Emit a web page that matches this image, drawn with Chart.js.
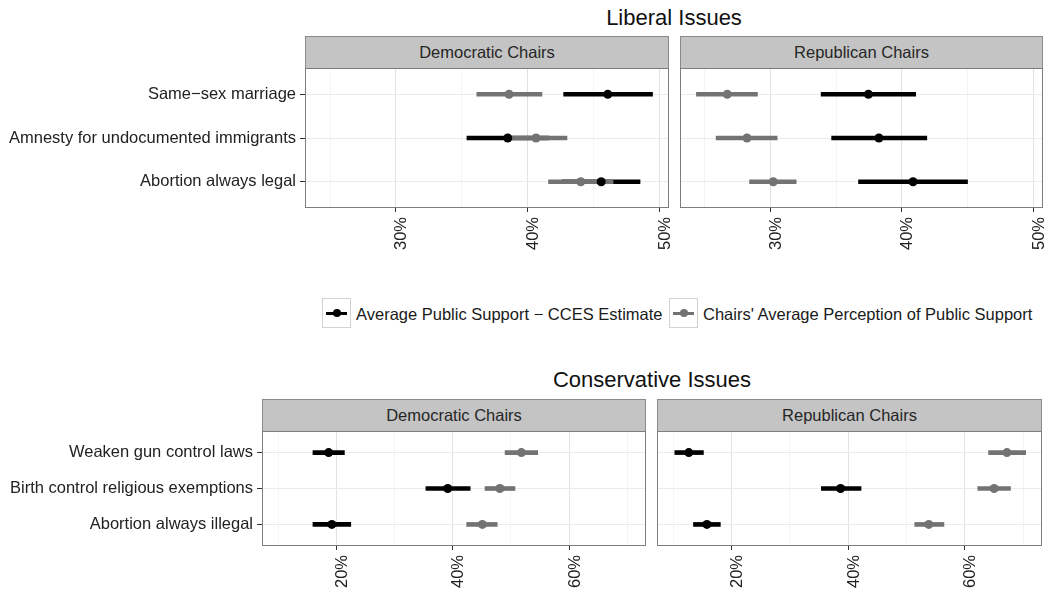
<!DOCTYPE html>
<html>
<head>
<meta charset="utf-8">
<script src="https://cdn.jsdelivr.net/npm/chart.js@4.4.1/dist/chart.umd.min.js"></script>
<style>
  html, body { margin: 0; padding: 0; background: #fff; }
  body {
    width: 1050px; height: 596px; position: relative; overflow: hidden;
    font-family: 'Liberation Sans', Arial, Helvetica, sans-serif; color: #1a1a1a;
  }
  .abs { position: absolute; white-space: nowrap; }
  .title { font-size: 22px; transform: translate(-50%, -50%); color: #111; }
  .strip {
    background: #c4c4c4; border: 1px solid #8a8a8a; box-sizing: border-box;
    display: flex; align-items: center; justify-content: center;
    font-size: 16.5px; color: #262626;
  }
  canvas { position: absolute; }
  .key { width: 29px; height: 30px; border: 1px solid #d2d2d2; box-sizing: border-box; background: #fff; }
  .key .kline { position: absolute; left: 3px; right: 3px; top: 13px; height: 3px; }
  .key .kdot { position: absolute; left: 10px; top: 10px; width: 8px; height: 8px; border-radius: 50%; }
  .ltext { font-size: 16.5px; transform: translateY(-50%); color: #1a1a1a; }
</style>
</head>
<body>

<div class="abs title" style="left:674px; top:18px;">Liberal Issues</div>
<div class="abs title" style="left:652px; top:380px;">Conservative Issues</div>

<div id="strips"></div>

<!-- legend -->
<div class="abs key" style="left:322px; top:298px;"><div class="kline" style="background:#000"></div><div class="kdot" style="background:#000"></div></div>
<div class="abs ltext" id="leg0" style="left:356px; top:314px;"></div>
<div class="abs key" style="left:669px; top:298px;"><div class="kline" style="background:#737373"></div><div class="kdot" style="background:#737373"></div></div>
<div class="abs ltext" id="leg1" style="left:703px; top:314px;"></div>

<script>
// ---- categories and labels ----
const libCategories = ['Same\u2212sex marriage', 'Amnesty for undocumented immigrants', 'Abortion always legal'];
const conCategories = ['Weaken gun control laws', 'Birth control religious exemptions', 'Abortion always illegal'];
const seriesNames = ['Average Public Support \u2212 CCES Estimate', "Chairs' Average Perception of Public Support"];
const panelNames = ['Democratic Chairs', 'Republican Chairs'];

// ---- Liberal issues (percent) ----
const libDemCcesMean = [46.1, 38.5, 45.6];
const libDemCcesLow  = [42.75, 35.4, 42.65];
const libDemCcesHigh = [49.5, 41.6, 48.55];
const libDemPercMean = [38.6, 40.65, 44.05];
const libDemPercLow  = [36.15, 38.3, 41.6];
const libDemPercHigh = [41.1, 43.0, 46.5];

const libRepCcesMean = [37.45, 38.25, 40.85];
const libRepCcesLow  = [33.85, 34.65, 36.7];
const libRepCcesHigh = [41.05, 41.9, 45.0];
const libRepPercMean = [26.7, 28.2, 30.2];
const libRepPercLow  = [24.35, 25.85, 28.4];
const libRepPercHigh = [29.0, 30.5, 31.95];

// ---- Conservative issues (percent) ----
const conDemCcesMean = [18.7, 39.15, 19.25];
const conDemCcesLow  = [16.0, 35.4, 16.0];
const conDemCcesHigh = [21.4, 43.0, 22.5];
const conDemPercMean = [51.8, 48.1, 45.1];
const conDemPercLow  = [49.0, 45.55, 42.4];
const conDemPercHigh = [54.6, 50.7, 47.65];

const conRepCcesMean = [12.7, 38.7, 15.8];
const conRepCcesLow  = [10.3, 35.4, 13.5];
const conRepCcesHigh = [15.2, 42.2, 18.1];
const conRepPercMean = [67.2, 65.0, 53.8];
const conRepPercLow  = [64.05, 62.2, 51.4];
const conRepPercHigh = [70.4, 67.8, 56.4];

// ---- axis ticks ----
const libTicks = [25, 30, 35, 40, 45, 50];
const libTickLabels = ['', '30%', '', '40%', '', '50%'];
const libRange = [23.1, 50.75];
const conTicks = [10, 20, 30, 40, 50, 60, 70];
const conTickLabels = ['', '20%', '', '40%', '', '60%', ''];
const conRange = [7.25, 73.2];

// ---- styling ----
const FONT = "'Liberation Sans', Arial, Helvetica, sans-serif";
const seriesColors = ['#000000', '#737373'];

document.getElementById('leg0').textContent = seriesNames[0];
document.getElementById('leg1').textContent = seriesNames[1];

// panel frame drawn over the data, like a facet border
const framePlugin = {
  id: 'panelFrame',
  afterDatasetsDraw(chart) {
    const a = chart.chartArea, ctx = chart.ctx;
    ctx.save();
    ctx.strokeStyle = '#7d7d7d';
    ctx.lineWidth = 1;
    ctx.strokeRect(a.left + 0.5, a.top + 0.5, a.right - a.left - 1, a.bottom - a.top - 1);
    ctx.restore();
  }
};

function addStrip(text, box) {
  const d = document.createElement('div');
  d.className = 'abs strip';
  d.style.left = box.left + 'px';
  d.style.top = (box.top - 32) + 'px';
  d.style.width = box.width + 'px';
  d.style.height = '33px';
  d.textContent = text;
  document.getElementById('strips').appendChild(d);
}

function makePanel(cfg) {
  const { box, categories, showLabels, ticks, tickLabels, range, series } = cfg;
  // generous paddings so scale label padding never eats into the plotting area
  const padL = showLabels ? 0 : 30, padR = 30, padT = 24, padB = 4;
  const yW = showLabels ? box.left : 0;
  const xH = 50;
  const canvas = document.createElement('canvas');
  canvas.width = padL + yW + box.width + padR;
  canvas.height = padT + box.height + xH + padB;
  canvas.style.left = (box.left - yW - padL) + 'px';
  canvas.style.top = (box.top - padT) + 'px';
  document.body.appendChild(canvas);

  const majorSet = new Set(ticks.filter((v, i) => tickLabels[i] !== ''));
  const isMajor = ctx => ctx && ctx.tick && majorSet.has(ctx.tick.value);

  const datasets = [];
  series.forEach((s, k) => {
    datasets.push({
      type: 'bar',
      indexAxis: 'y',
      data: categories.map((c, i) => ({ x: [s.low[i], s.high[i]], y: i + 1 })),
      backgroundColor: s.color,
      borderWidth: 0,
      barThickness: 4,
      grouped: false,
      order: 4 - k
    });
  });
  series.forEach((s, k) => {
    datasets.push({
      type: 'scatter',
      data: categories.map((c, i) => ({ x: s.mean[i], y: i + 1 })),
      pointRadius: 4.5,
      pointBackgroundColor: s.color,
      pointBorderWidth: 0,
      showLine: false,
      order: 2 - k
    });
  });

  const chart = new Chart(canvas, {
    type: 'scatter',
    data: { datasets },
    plugins: [framePlugin],
    options: {
      responsive: false,
      animation: false,
      devicePixelRatio: 1,
      events: [],
      layout: { padding: { left: padL, right: padR, top: padT, bottom: padB } },
      plugins: { legend: { display: false }, tooltip: { enabled: false } },
      scales: {
        x: {
          type: 'linear',
          min: range[0], max: range[1],
          offset: false,
          beginAtZero: false,
          afterBuildTicks: sc => { sc.ticks = ticks.map(v => ({ value: v })); },
          afterFit: sc => { sc.height = xH; },
          border: { display: false },
          grid: {
            offset: false,
            color: c => isMajor(c) ? '#e2e2e2' : '#f0f0f0',
            lineWidth: c => isMajor(c) ? 1 : 0.7,
            tickColor: c => isMajor(c) ? '#333333' : 'rgba(0,0,0,0)',
            tickLength: 4,
            tickWidth: 1
          },
          ticks: {
            autoSkip: false,
            minRotation: 90, maxRotation: 90,
            padding: 5,
            labelOffset: 6,
            color: '#222',
            font: { family: FONT, size: 16.5 },
            callback: (v, i) => tickLabels[i]
          }
        },
        y: {
          type: 'linear',
          min: 0.4, max: 3.6,
          reverse: true,
          offset: false,
          beginAtZero: false,
          afterBuildTicks: sc => { sc.ticks = categories.map((c, i) => ({ value: i + 1 })); },
          afterFit: sc => { sc.width = yW; },
          border: { display: false },
          grid: {
            offset: false,
            color: '#ebebeb',
            lineWidth: 1,
            drawTicks: showLabels,
            tickColor: '#333333',
            tickLength: 5
          },
          ticks: {
            display: showLabels,
            padding: 4,
            color: '#222',
            font: { family: FONT, size: 16.5 },
            callback: v => categories[Math.round(v) - 1]
          }
        }
      }
    }
  });

  // keep the plotting area exactly on its facet box
  const a = chart.chartArea;
  canvas.style.left = (box.left - a.left) + 'px';
  canvas.style.top = (box.top - a.top) + 'px';
  return chart;
}

const panels = [
  { name: panelNames[0], box: { left: 305, top: 68, width: 364, height: 140 }, categories: libCategories, showLabels: true,
    ticks: libTicks, tickLabels: libTickLabels, range: libRange,
    series: [ { mean: libDemCcesMean, low: libDemCcesLow, high: libDemCcesHigh, color: seriesColors[0] },
              { mean: libDemPercMean, low: libDemPercLow, high: libDemPercHigh, color: seriesColors[1] } ] },
  { name: panelNames[1], box: { left: 680, top: 68, width: 363, height: 140 }, categories: libCategories, showLabels: false,
    ticks: libTicks, tickLabels: libTickLabels, range: libRange,
    series: [ { mean: libRepCcesMean, low: libRepCcesLow, high: libRepCcesHigh, color: seriesColors[0] },
              { mean: libRepPercMean, low: libRepPercLow, high: libRepPercHigh, color: seriesColors[1] } ] },
  { name: panelNames[0], box: { left: 262, top: 431, width: 384, height: 115 }, categories: conCategories, showLabels: true,
    ticks: conTicks, tickLabels: conTickLabels, range: conRange,
    series: [ { mean: conDemCcesMean, low: conDemCcesLow, high: conDemCcesHigh, color: seriesColors[0] },
              { mean: conDemPercMean, low: conDemPercLow, high: conDemPercHigh, color: seriesColors[1] } ] },
  { name: panelNames[1], box: { left: 657, top: 431, width: 385, height: 115 }, categories: conCategories, showLabels: false,
    ticks: conTicks, tickLabels: conTickLabels, range: conRange,
    series: [ { mean: conRepCcesMean, low: conRepCcesLow, high: conRepCcesHigh, color: seriesColors[0] },
              { mean: conRepPercMean, low: conRepPercLow, high: conRepPercHigh, color: seriesColors[1] } ] }
];

panels.forEach(p => { makePanel(p); addStrip(p.name, p.box); });
</script>
</body>
</html>
